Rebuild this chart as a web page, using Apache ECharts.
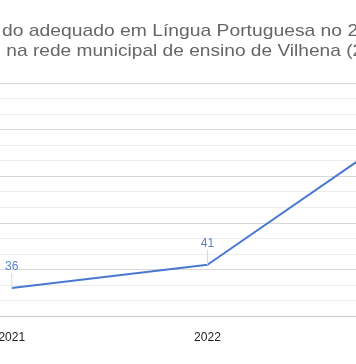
<!DOCTYPE html>
<html>
<head>
<meta charset="utf-8">
<script src="https://cdn.jsdelivr.net/npm/echarts@6/dist/echarts.min.js"></script>
<style>html,body{margin:0;padding:0;background:#fff;}#c{width:356px;height:364px;}</style>
</head>
<body>
<div id="c"></div>
<script>
const titleLine1 = 'do adequado em Língua Portuguesa no 2';
const titleLine2 = ' na rede municipal de ensino de Vilhena (2';
const years = [2021, 2022, 2023];
const values = [36, 41, 70];
const xTickLabels = [2021, 2022];
const yMin = 30, yMax = 80, yStep = 10;

const chart = echarts.init(document.getElementById('c'), null, {renderer: 'canvas'});
const font = 'Liberation Sans, Arial, sans-serif';
const pts = years.map((y, i) => [y, values[i]]);
chart.setOption({
  animation: false,
  backgroundColor: '#fff',
  graphic: [
    {type: 'text', x: 2, y: 31, scaleX: 1.135,
     style: {text: titleLine1, font: '17px ' + font, fill: '#666', textVerticalAlign: 'middle'}},
    {type: 'text', x: 1, y: 51, scaleX: 1.125,
     style: {text: titleLine2, font: '17px ' + font, fill: '#666', textVerticalAlign: 'middle'}}
  ],
  grid: {left: 0, right: 0, top: 83, bottom: 48, containLabel: false, outerBoundsMode: 'none'},
  xAxis: {
    type: 'value', min: 2020.94, max: 2022.759,
    axisLine: {show: true, onZero: false, lineStyle: {color: '#cccccc', width: 1}},
    axisTick: {show: false},
    splitLine: {show: false},
    axisLabel: {color: '#222', fontSize: 12, fontFamily: font, margin: 16,
                customValues: xTickLabels, showMinLabel: true, showMaxLabel: true,
                formatter: v => String(Math.round(v))}
  },
  yAxis: {
    type: 'value', min: yMin, max: yMax, interval: yStep,
    axisLine: {show: false}, axisTick: {show: false}, axisLabel: {show: false},
    splitLine: {show: true, lineStyle: {color: '#d9d9d9', width: 1}},
    minorTick: {show: false, splitNumber: 3},
    minorSplitLine: {show: true, lineStyle: {color: '#ededed', width: 1}}
  },
  series: [
    {
      type: 'line', data: pts, z: 2, clip: true,
      symbol: 'none', smooth: false,
      lineStyle: {color: '#4a78d0', width: 2}
    },
    {
      type: 'custom',
      data: pts,
      z: 3, clip: true,
      renderItem: function (params, api) {
        const p = api.coord([api.value(0), api.value(1)]);
        return {type: 'group', children: [
          {type: 'line', shape: {x1: p[0], y1: p[1], x2: p[0], y2: p[1] - 15},
           style: {stroke: '#d3d8e2', lineWidth: 1}, z2: 0},
          {type: 'text', x: p[0], y: p[1] - 21,
           style: {text: String(api.value(1)), fill: '#5b84c8', font: '12px ' + font,
                   textAlign: 'center', textVerticalAlign: 'middle'}}
        ]};
      }
    }
  ]
});
</script>
</body>
</html>
